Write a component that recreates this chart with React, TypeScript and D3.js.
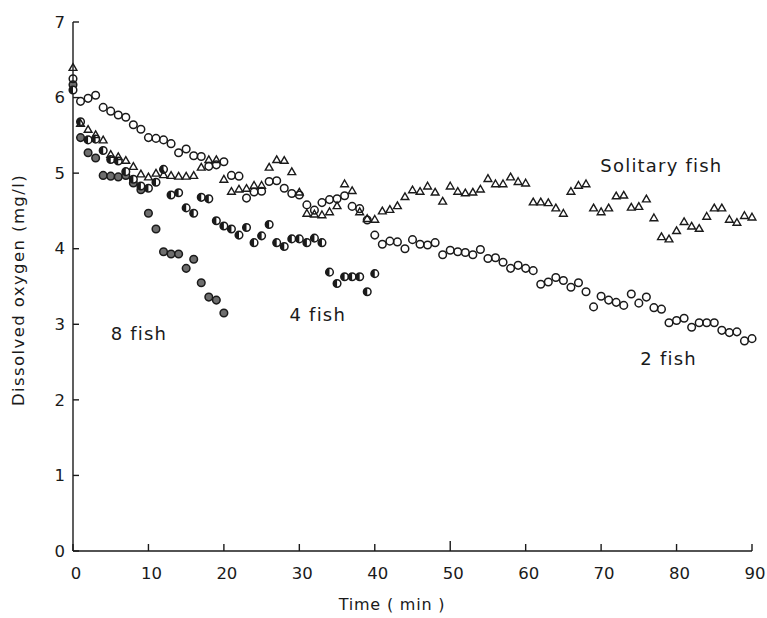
import React from "react";
import * as d3 from "d3";

// Dissolved oxygen (mg/l) sampled once a minute for each group size
const solitaryFish = [
  6.39, 5.65, 5.57, 5.5, 5.43, 5.24, 5.21, 5.16, 5.08, 4.98,
  4.94, 4.99, 4.97, 4.96, 4.95, 4.95, 4.96, 5.07, 5.17, 5.17,
  4.91, 4.75, 4.78, 4.79, 4.83, 4.83, 5.07, 5.17, 5.16, 5.01,
  4.74, 4.46, 4.45, 4.44, 4.48, 4.56, 4.85, 4.76, 4.48, 4.39,
  4.38, 4.49, 4.51, 4.56, 4.68, 4.77, 4.75, 4.82, 4.74, 4.62,
  4.82, 4.75, 4.73, 4.74, 4.78, 4.92, 4.85, 4.85, 4.94, 4.88,
  4.86, 4.61, 4.61, 4.6, 4.53, 4.46, 4.75, 4.83, 4.85, 4.53,
  4.48, 4.53, 4.69, 4.7, 4.54, 4.55, 4.65, 4.4, 4.15, 4.12,
  4.23, 4.35, 4.29, 4.26, 4.42, 4.53, 4.53, 4.38, 4.34, 4.43,
  4.41,
];

const twoFish = [
  6.25, 5.95, 5.99, 6.03, 5.87, 5.82, 5.77, 5.74, 5.64, 5.58,
  5.47, 5.46, 5.44, 5.39, 5.27, 5.32, 5.23, 5.22, 5.09, 5.11,
  5.15, 4.97, 4.96, 4.67, 4.75, 4.76, 4.89, 4.9, 4.8, 4.73,
  4.71, 4.58, 4.51, 4.61, 4.65, 4.66, 4.7, 4.56, 4.53, 4.38,
  4.18, 4.06, 4.1, 4.09, 4.0, 4.12, 4.06, 4.05, 4.08, 3.92,
  3.98, 3.96, 3.95, 3.92, 3.99, 3.87, 3.88, 3.82, 3.74, 3.78,
  3.74, 3.71, 3.53, 3.56, 3.62, 3.58, 3.49, 3.55, 3.43, 3.23,
  3.37, 3.32, 3.29, 3.25, 3.4, 3.28, 3.36, 3.22, 3.2, 3.02,
  3.05, 3.08, 2.96, 3.02, 3.02, 3.02, 2.92, 2.89, 2.9, 2.78,
  2.81,
];

const fourFish = [
  6.1, 5.68, 5.44, 5.45, 5.3, 5.18, 5.16, 5.02, 4.92, 4.83,
  4.8, 4.88, 5.05, 4.71, 4.74, 4.54, 4.47, 4.68, 4.66, 4.37,
  4.3, 4.26, 4.18, 4.28, 4.08, 4.17, 4.32, 4.08, 4.03, 4.13,
  4.13, 4.08, 4.14, 4.08, 3.69, 3.54, 3.63, 3.63, 3.63, 3.43,
  3.67,
];

const eightFish = [
  6.17, 5.47, 5.27, 5.2, 4.97, 4.96, 4.95, 4.97, 4.87, 4.78,
  4.47, 4.26, 3.96, 3.93, 3.93, 3.74, 3.86, 3.55, 3.36, 3.32,
  3.15,
];

const xTicks = [0, 10, 20, 30, 40, 50, 60, 70, 80, 90];
const yTicks = [0, 1, 2, 3, 4, 5, 6, 7];

// Group names written beside their point clouds (time, oxygen of baseline start)
const seriesLabels = [
  { text: "Solitary fish", t: 69.9, v: 5.02 },
  { text: "2 fish", t: 75.2, v: 2.46 },
  { text: "4 fish", t: 28.7, v: 3.05 },
  { text: "8 fish", t: 5.0, v: 2.79 },
];

const W = 767;
const H = 618;
const x = d3.scaleLinear().domain([0, 90]).range([73, 752]);
const y = d3.scaleLinear().domain([0, 7]).range([551, 22]);

const INK = "#1a1a1a";
const FONT = "'DejaVu Sans', 'Liberation Sans', sans-serif";
const R = 3.8;

const triangle = d3.symbol().type(d3.symbolTriangle).size(26)() as string;

function pts(values: number[]) {
  return values.map((v, i) => ({ t: i, v }));
}

export default function App() {
  return (
    <svg
      width={W}
      height={H}
      viewBox={`0 0 ${W} ${H}`}
      style={{ position: "absolute", left: 0, top: 0, background: "#fff" }}
    >
      {/* axes */}
      <g stroke={INK} strokeWidth={1.4} fill="none">
        <line x1={x(0)} x2={x(0)} y1={y(7)} y2={y(0)} />
        <line x1={x(0)} x2={x(90)} y1={y(0)} y2={y(0)} />
        {yTicks.map((d) => (
          <line key={"yt" + d} x1={x(0)} x2={x(0) + 6} y1={y(d)} y2={y(d)} />
        ))}
        {xTicks.map((d) => (
          <line
            key={"xt" + d}
            x1={x(d)}
            x2={x(d)}
            y1={y(0)}
            y2={y(0) - (d === 50 ? 10 : 7)}
          />
        ))}
      </g>
      <g fill={INK} fontFamily={FONT} fontSize={16.5}>
        {yTicks.map((d) => (
          <text key={"yl" + d} x={x(0) - 8} y={y(d)} dy="0.35em" textAnchor="end">
            {d}
          </text>
        ))}
        {xTicks.map((d) => (
          <text key={"xl" + d} x={x(d) + 3} y={y(0) + 28} textAnchor="middle">
            {d}
          </text>
        ))}
        <text x={392} y={610} textAnchor="middle" fontSize={16} letterSpacing={0.8}>
          Time ( min )
        </text>
        <text
          transform={`translate(24,290) rotate(-90)`}
          textAnchor="middle"
          fontSize={16.5}
          letterSpacing={1.4}
        >
          Dissolved  oxygen (mg/l)
        </text>
        {seriesLabels.map((l) => (
          <text
            key={l.text}
            x={x(l.t)}
            y={y(l.v)}
            textAnchor="start"
            fontSize={18}
            letterSpacing={1.2}
          >
            {l.text}
          </text>
        ))}
      </g>

      {/* 8 fish: shaded circles */}
      <g>
        {pts(eightFish).map((p) => (
          <circle
            key={"e" + p.t}
            cx={x(p.t)}
            cy={y(p.v)}
            r={R}
            fill="#6e6e6e"
            stroke={INK}
            strokeWidth={1.5}
          />
        ))}
      </g>

      {/* 4 fish: half-filled circles */}
      <g>
        {pts(fourFish).map((p) => {
          const cx = x(p.t);
          const cy = y(p.v);
          return (
            <g key={"f" + p.t}>
              <circle cx={cx} cy={cy} r={R} fill="#fff" stroke={INK} strokeWidth={1.5} />
              <path
                d={`M${cx},${cy - R} A${R},${R} 0 0,0 ${cx},${cy + R} Z`}
                fill={INK}
              />
            </g>
          );
        })}
      </g>

      {/* 2 fish: open circles */}
      <g>
        {pts(twoFish).map((p) => (
          <circle
            key={"t" + p.t}
            cx={x(p.t)}
            cy={y(p.v)}
            r={R}
            fill="none"
            stroke={INK}
            strokeWidth={1.5}
          />
        ))}
      </g>

      {/* solitary fish: open triangles */}
      <g>
        {pts(solitaryFish).map((p) => (
          <path
            key={"s" + p.t}
            d={triangle}
            transform={`translate(${x(p.t)},${y(p.v)})`}
            fill="none"
            stroke={INK}
            strokeWidth={1.4}
          />
        ))}
      </g>
    </svg>
  );
}
